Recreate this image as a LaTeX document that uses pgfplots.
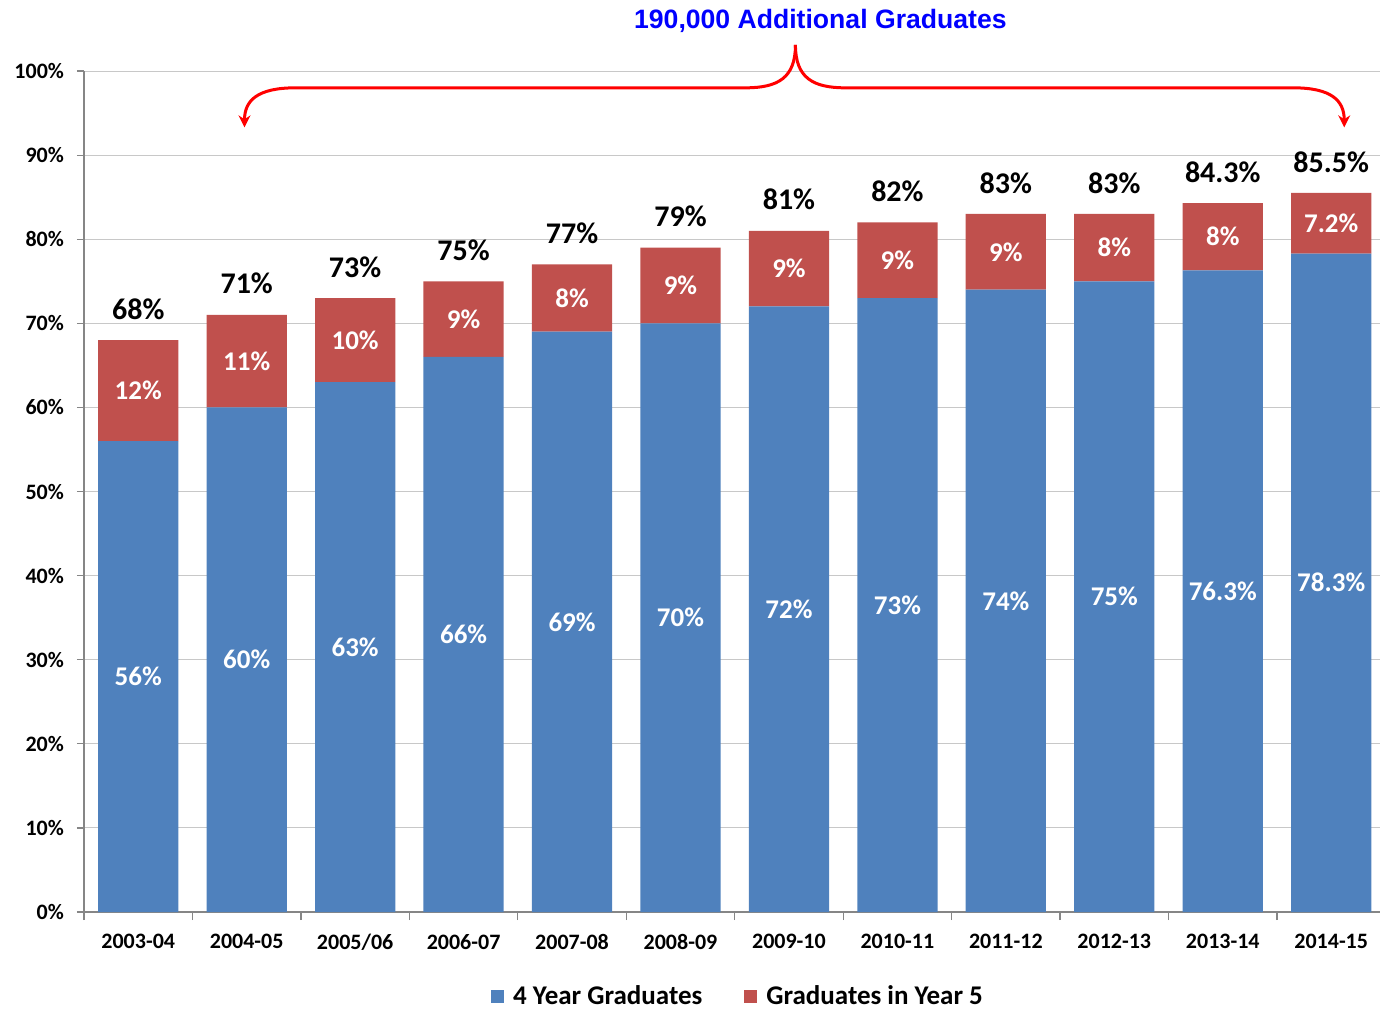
\documentclass[border=0pt]{standalone}
\usepackage{pgfplots}
\pgfplotsset{compat=1.18}
\usepackage{pgfplotstable}
\usepackage{fontspec}
\setmainfont{Carlito}
\newfontfamily\arialfont{Liberation Sans}
\usetikzlibrary{arrows.meta}
\definecolor{cblue}{HTML}{4F81BD}
\definecolor{cred}{HTML}{C0504D}
\definecolor{ttlblue}{HTML}{0000FF}
\definecolor{axisgray}{HTML}{868686}
\definecolor{gridgray}{HTML}{C8C8C8}

\pgfplotstableread{
x a b t la lb lt
0 56 12 68 56 12 68
1 60 11 71 60 11 71
2 63 10 73 63 10 73
3 66 9 75 66 9 75
4 69 8 77 69 8 77
5 70 9 79 70 9 79
6 72 9 81 72 9 81
7 73 9 82 73 9 82
8 74 9 83 74 9 83
9 75 8 83 75 8 83
10 76.3 8 84.3 76.3 8 84.3
11 78.3 7.2 85.5 78.3 7.2 85.5
}\datatable

\pgfplotsset{base/.style={scale only axis, width=648pt, height=420.5pt,
  xmin=-0.5, xmax=11.45, ymin=0, ymax=100, clip=false}}

\begin{document}
\begin{tikzpicture}
\begin{axis}[base, ybar stacked, bar width=0.74,
  axis lines*=left,
  axis line style={draw=axisgray, line width=0.6pt},
  ytick={0,10,...,100},
  yticklabel={\pgfmathprintnumber{\tick}\%},
  /pgf/number format/assume math mode=true,
  yticklabel style={font=\fontsize{11}{11}\selectfont\bfseries, xshift=-3pt},
  ymajorgrids, grid style={draw=gridgray, line width=0.5pt},
  xtick={0,...,11},
  xticklabels={2003-04,2004-05,2005/06,2006-07,2007-08,2008-09,2009-10,2010-11,2011-12,2012-13,2013-14,2014-15},
  xticklabel style={font=\fontsize{11}{11}\selectfont\bfseries, yshift=-4pt},
  major x tick style={draw=none},
  minor xtick={-0.5,0.5,...,10.5},
  minor x tick style={draw=axisgray, line width=0.6pt},
  major y tick style={draw=axisgray, line width=0.6pt},
  tick align=outside,
  major tick length=3.5pt, minor tick length=4pt,
  legend style={at={(0.5,-0.1)}, xshift=3.5pt, anchor=center, legend columns=2, draw=none,
    font=\fontsize{13.5}{13.5}\selectfont\bfseries,
    /tikz/every odd column/.append style={column sep=2.5pt},
    /tikz/every even column/.append style={column sep=19pt}},
  legend image code/.code={\fill[#1] (0pt,-3.25pt) rectangle (6.5pt,3.25pt);},
]
\addplot[fill=cblue, draw=none] table[x=x, y=a]{\datatable};
\addplot[fill=cred, draw=none] table[x=x, y=b]{\datatable};
\legend{4 Year Graduates, Graduates in Year 5}

\node[font=\arialfont\bfseries\fontsize{13.3}{13.3}\selectfont, text=ttlblue]
  at (axis cs:6.29,106.0) {190,000 Additional Graduates};
\draw[red, line width=1.5pt, -{Stealth[length=6pt,width=6pt]}]
  (axis cs:6.06,103.1) .. controls (axis cs:6.06,99.2) and (axis cs:5.9,98) .. (axis cs:5.6,98)
  -- (axis cs:1.45,98) .. controls (axis cs:1.1,98) and (axis cs:0.98,96.5) .. (axis cs:0.98,93.3);
\draw[red, line width=1.5pt, -{Stealth[length=6pt,width=6pt]}]
  (axis cs:6.06,103.1) .. controls (axis cs:6.06,99.2) and (axis cs:6.22,98) .. (axis cs:6.52,98)
  -- (axis cs:10.65,98) .. controls (axis cs:11.0,98) and (axis cs:11.12,96.5) .. (axis cs:11.12,93.3);
\end{axis}

\begin{axis}[base, hide axis, point meta=explicit symbolic,
  nodes near coords={\pgfplotspointmeta\%}]
\addplot[draw=none, mark=none, every node near coord/.style={anchor=center, text=white,
  font=\fontsize{13.5}{13.5}\selectfont\bfseries}]
  table[x=x, y expr=\thisrow{a}/2, meta=la]{\datatable};
\addplot[draw=none, mark=none, every node near coord/.style={anchor=center, text=white,
  font=\fontsize{13.5}{13.5}\selectfont\bfseries}]
  table[x=x, y expr=\thisrow{a}+\thisrow{b}/2, meta=lb]{\datatable};
\addplot[draw=none, mark=none, every node near coord/.style={anchor=center, text=black,
  font=\fontsize{15}{15}\selectfont\bfseries}]
  table[x=x, y expr=\thisrow{t}+3.7, meta=lt]{\datatable};
\end{axis}

\pgfresetboundingbox
\path (current axis.south west) ++(-42pt,-48.5pt) rectangle ([shift={(648pt,456pt)}]current axis.south west);
\end{tikzpicture}
\end{document}
